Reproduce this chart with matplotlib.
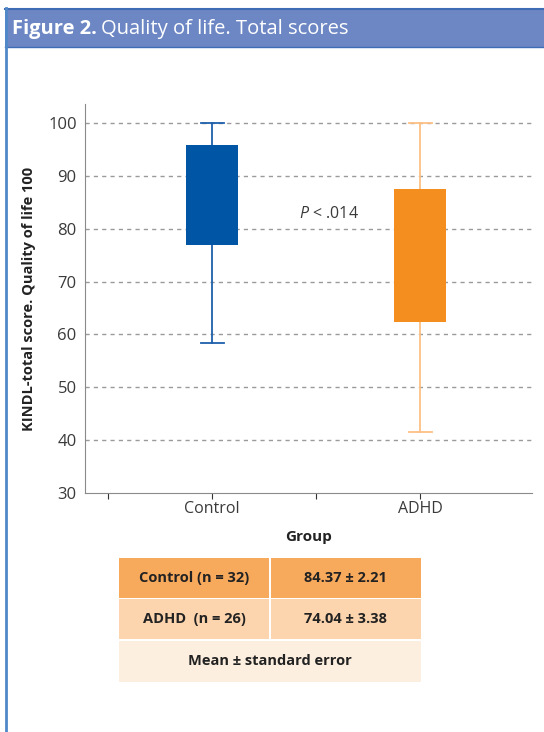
import matplotlib
matplotlib.use('Agg')
import matplotlib.pyplot as plt
from matplotlib.patches import Rectangle

plt.rcParams['font.family'] = ['Open Sans', 'DejaVu Sans']
plt.rcParams['mathtext.fontset'] = 'custom'
plt.rcParams['mathtext.it'] = 'Open Sans:italic'
plt.rcParams['mathtext.rm'] = 'Open Sans'

# box summary
groups = ['Control', 'ADHD']
positions = [1, 2]
q1 = [77.0, 62.3]
q3 = [95.8, 87.5]
whislo = [58.4, 41.6]
whishi = [100.0, 100.0]
box_colors = ['#0055a4', '#f48e1f']
whisker_colors = ['#1f5fab', '#fdbf83']

table_labels = ['Control (n = 32)', 'ADHD  (n = 26)']
table_values = ['84.37 \u00b1 2.21', '74.04 \u00b1 3.38']
table_note = 'Mean \u00b1 standard error'

W, H = 544, 732
fig = plt.figure(figsize=(W / 100, H / 100), dpi=100)

# overlay for frame, header and the summary table (pixel coords)
bg = fig.add_axes([0, 0, 1, 1])
bg.set_xlim(0, W)
bg.set_ylim(H, 0)
bg.axis('off')
bg.add_patch(Rectangle((5, 8), W - 5, 39, facecolor='#6d87c4', edgecolor='none'))
bg.plot([5, W], [8.5, 8.5], color='#3f6db5', lw=1.5)
bg.plot([5, W], [46.5, 46.5], color='#3f6db5', lw=1.0)
bg.plot([5.5, 5.5], [8, H], color='#4f88c9', lw=2)
bg.text(12, 29, 'Figure 2.', color='white', fontsize=14.5, fontweight='bold', va='center')
bg.text(101, 29, 'Quality of life. Total scores', color='white', fontsize=14.5, va='center')

row_colors = ['#f7a95c', '#fcd5ae']
rows_y = [558, 599]
x0, xm, x1 = 119, 270, 421
for i in range(2):
    y = rows_y[i]
    bg.add_patch(Rectangle((x0, y), xm - x0 - 1, 40, facecolor=row_colors[i], edgecolor='none'))
    bg.add_patch(Rectangle((xm + 1, y), x1 - xm - 1, 40, facecolor=row_colors[i], edgecolor='none'))
    bg.text((x0 + xm) / 2, y + 20, table_labels[i], ha='center', va='center',
            fontsize=10.5, fontweight='bold', color='#222222')
    bg.text((xm + x1) / 2, y + 20, table_values[i], ha='center', va='center',
            fontsize=10.5, fontweight='bold', color='#222222')
bg.add_patch(Rectangle((x0, 641), x1 - x0, 41, facecolor='#fdefdf', edgecolor='none'))
bg.text((x0 + x1) / 2, 661, table_note, ha='center', va='center',
        fontsize=10.5, fontweight='bold', color='#222222')

# main chart
ax = fig.add_axes([85 / W, (H - 493) / H, 447 / W, 389 / H])
ax.patch.set_alpha(0)
stats = []
for i in range(len(groups)):
    stats.append(dict(med=(q1[i] + q3[i]) / 2, q1=q1[i], q3=q3[i],
                      whislo=whislo[i], whishi=whishi[i], fliers=[]))
bp = ax.bxp(stats, positions=positions, widths=0.25, patch_artist=True,
            showfliers=False, capwidths=0.11, manage_ticks=False,
            medianprops=dict(linewidth=0))
for i in range(len(groups)):
    bp['boxes'][i].set_facecolor(box_colors[i])
    bp['boxes'][i].set_edgecolor('none')
    for ln in bp['whiskers'][2 * i:2 * i + 2] + bp['caps'][2 * i:2 * i + 2]:
        ln.set_color(whisker_colors[i])
        ln.set_linewidth(1.3)
        ln.set_zorder(1)
    bp['boxes'][i].set_zorder(2)

ax.set_ylim(30, 103.6)
ax.set_xlim(0.389, 2.538)
ax.set_yticks(range(30, 101, 10))
ax.set_xticks([0.5, 1, 1.5, 2])
ax.set_xticklabels(['', 'Control', '', 'ADHD'])
for y in range(40, 101, 10):
    ax.axhline(y, color='#9a9a9a', lw=1, ls=(0, (3, 3)), zorder=0)

for s in ['top', 'right']:
    ax.spines[s].set_visible(False)
for s in ['left', 'bottom']:
    ax.spines[s].set_color('#8a8a8a')
ax.tick_params(axis='y', length=0, labelsize=12, labelcolor='#3a3a3a', pad=6)
ax.tick_params(axis='x', length=4, color='#333333', labelsize=11.5,
               labelcolor='#3a3a3a', pad=2)

ax.set_ylabel('KINDL-total score. Quality of life 100', fontsize=10.5,
              fontweight='bold', color='#222222', labelpad=9)
ax.set_xlabel('Group', fontsize=11, fontweight='bold', color='#222222', labelpad=9)

ax.text(1.56, 82.8, r'$\mathit{P}$ < .014', ha='center', va='center',
        fontsize=11.5, color='#3a3a3a')

fig.savefig('out.png', dpi=100)
